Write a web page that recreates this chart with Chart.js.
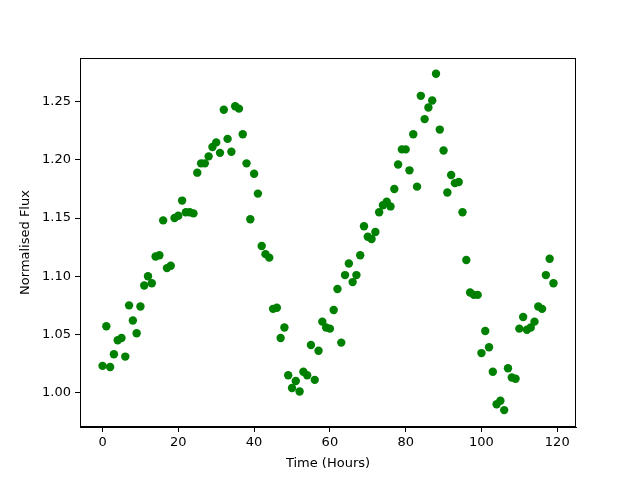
<!DOCTYPE html>
<html>
<head>
<meta charset="utf-8">
<script src="https://cdn.jsdelivr.net/npm/chart.js@4"></script>
<style>
  html, body { margin: 0; padding: 0; background: #fff; }
  #wrap { width: 640px; height: 480px; }
</style>
</head>
<body>
<div id="wrap"><canvas id="fluxChart" width="640" height="480"></canvas></div>
<script>
// light curve data, one reading per hour
const hours = [];
for (let h = 0; h < 120; h++) hours.push(h);

const flux = [
  1.023, 1.057, 1.022, 1.033, 1.045, 1.047, 1.031, 1.075, 1.062, 1.051,
  1.074, 1.092, 1.100, 1.094, 1.117, 1.118, 1.148, 1.107, 1.109, 1.150,
  1.152, 1.165, 1.155, 1.155, 1.154, 1.189, 1.197, 1.197, 1.203, 1.211,
  1.215, 1.206, 1.243, 1.218, 1.207, 1.246, 1.244, 1.222, 1.197, 1.149,
  1.188, 1.171, 1.126, 1.119, 1.116, 1.072, 1.073, 1.047, 1.056, 1.015,
  1.004, 1.010, 1.001, 1.018, 1.015, 1.041, 1.011, 1.036, 1.061, 1.056,
  1.055, 1.071, 1.089, 1.043, 1.101, 1.111, 1.095, 1.101, 1.118, 1.143,
  1.134, 1.132, 1.138, 1.155, 1.161, 1.164, 1.160, 1.175, 1.196, 1.209,
  1.209, 1.191, 1.222, 1.177, 1.255, 1.235, 1.245, 1.251, 1.274, 1.226,
  1.208, 1.172, 1.187, 1.180, 1.181, 1.155, 1.114, 1.086, 1.084, 1.084,
  1.034, 1.053, 1.039, 1.018, 0.990, 0.993, 0.985, 1.021, 1.013, 1.012,
  1.055, 1.065, 1.054, 1.056, 1.061, 1.074, 1.072, 1.101, 1.115, 1.094
];

const xTicks = [0, 20, 40, 60, 80, 100, 120];
const yTicks = [1.00, 1.05, 1.10, 1.15, 1.20, 1.25];

const points = hours.map((h, i) => ({ x: h, y: flux[i] }));

// matplotlib style full frame around the plot area
const frame = {
  id: 'frame',
  afterDraw(chart) {
    const a = chart.chartArea, c = chart.ctx;
    c.save();
    c.strokeStyle = '#000';
    c.lineWidth = 1;
    c.strokeRect(a.left + 0.5, a.top + 0.5, a.right - a.left - 1, a.bottom - a.top - 1);
    c.restore();
  }
};

const font = { family: 'DejaVu Sans', size: 13 };

new Chart(document.getElementById('fluxChart').getContext('2d'), {
  type: 'scatter',
  data: {
    datasets: [{
      data: points,
      backgroundColor: '#008000',
      borderColor: '#008000',
      pointRadius: 4.2,
      pointHoverRadius: 4.2,
      borderWidth: 0
    }]
  },
  options: {
    responsive: false,
    animation: false,
    events: [],
    layout: { padding: { left: 0, right: 64, top: 58, bottom: 0 } },
    plugins: { legend: { display: false }, tooltip: { enabled: false } },
    scales: {
      x: {
        type: 'linear',
        min: -5.95,
        max: 124.95,
        afterFit(s) { s.height = 53; },
        afterBuildTicks(s) { s.ticks = xTicks.map(v => ({ value: v })); },
        grid: { display: true, drawOnChartArea: false, tickLength: 5, color: '#000' },
        border: { display: true, color: '#000' },
        ticks: { color: '#000', font, padding: 3, maxRotation: 0, callback: v => String(v) },
        title: { display: true, text: 'Time (Hours)', color: '#000', font, padding: { top: 4, bottom: 9 } }
      },
      y: {
        min: 0.9705,
        max: 1.2875,
        afterFit(s) { s.width = 80; },
        afterBuildTicks(s) { s.ticks = yTicks.map(v => ({ value: v })); },
        grid: { display: true, drawOnChartArea: false, tickLength: 5, color: '#000' },
        border: { display: true, color: '#000' },
        ticks: { color: '#000', font, padding: 4, callback: v => v.toFixed(2) },
        title: { display: true, text: 'Normalised Flux', color: '#000', font, padding: { top: 18, bottom: 6 } }
      }
    }
  },
  plugins: [frame]
});
</script>
</body>
</html>
